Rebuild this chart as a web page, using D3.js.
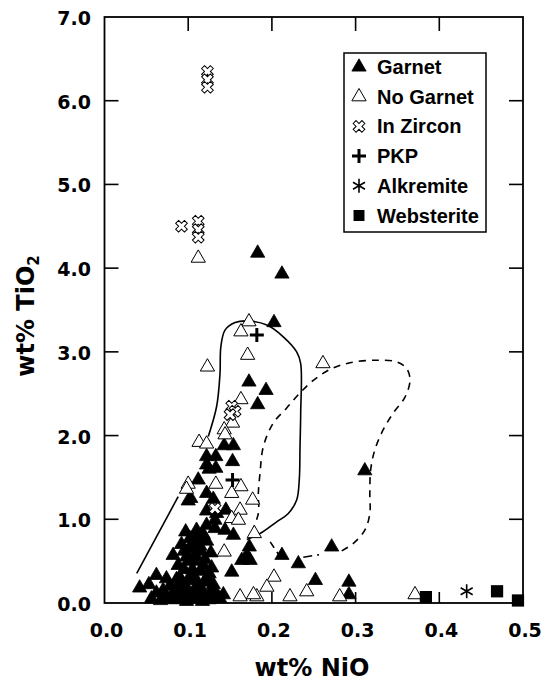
<!DOCTYPE html>
<html>
<head>
<meta charset="utf-8">
<script src="https://cdn.jsdelivr.net/npm/d3@7"></script>
<style>
    body { margin: 0; background: #fff; }
    svg { display: block; }
    .tick-label { font-family: 'DejaVu Sans', sans-serif; font-weight: bold; font-size: 19px; fill: #000; }
    .axis-title { font-family: 'DejaVu Sans', sans-serif; font-weight: bold; font-size: 24px; fill: #000; }
    .legend-label { font-family: 'Liberation Sans', Arial, sans-serif; font-weight: bold; font-size: 20px; fill: #000; }
</style>
</head>
<body>
<div id="chart"></div>
<script>
'use strict';

// [NiO, TiO2] wt%
var garnet = [
    [0.183, 4.18], [0.212, 3.93], [0.2025, 3.35], [0.1726, 2.64], [0.193, 2.54], [0.183, 2.37],
    [0.143, 1.88], [0.154, 1.88], [0.122, 1.75], [0.133, 1.75], [0.122, 1.65], [0.153, 1.69],
    [0.133, 1.61], [0.125, 1.60], [0.112, 1.47], [0.122, 1.31], [0.130, 1.24], [0.100, 1.22],
    [0.103, 1.25], [0.122, 1.10], [0.134, 1.07], [0.145, 1.11], [0.132, 0.99], [0.122, 0.93],
    [0.132, 0.89], [0.144, 0.87], [0.110, 0.87], [0.102, 0.77], [0.112, 0.75], [0.122, 0.74],
    [0.154, 0.81], [0.110, 0.79], [0.082, 0.57], [0.173, 0.67], [0.170, 0.57], [0.164, 0.51],
    [0.174, 0.51], [0.212, 0.57], [0.2316, 0.47], [0.2714, 0.67], [0.311, 1.58], [0.152, 0.37],
    [0.252, 0.27], [0.292, 0.25], [0.292, 0.10], [0.142, 0.10], [0.132, 0.08],
    [0.042, 0.18], [0.062, 0.33], [0.062, 0.12], [0.074, 0.29], [0.086, 0.18], [0.082, 0.075],
    [0.095, 0.62], [0.105, 0.65], [0.115, 0.62], [0.100, 0.50], [0.110, 0.50], [0.120, 0.52],
    [0.095, 0.40], [0.105, 0.40], [0.115, 0.38], [0.125, 0.35], [0.090, 0.30], [0.100, 0.28],
    [0.110, 0.27], [0.120, 0.25], [0.130, 0.22], [0.092, 0.18], [0.100, 0.15], [0.108, 0.17],
    [0.118, 0.13], [0.126, 0.12], [0.095, 0.07], [0.105, 0.05], [0.115, 0.06], [0.085, 0.04],
    [0.098, 0.02], [0.078, 0.20], [0.070, 0.15], [0.090, 0.10],
    [0.088, 0.45], [0.098, 0.55], [0.108, 0.58], [0.118, 0.45], [0.128, 0.42], [0.104, 0.70],
    [0.114, 0.68], [0.093, 0.25], [0.083, 0.12], [0.075, 0.05], [0.112, 0.20], [0.122, 0.30],
    [0.132, 0.14], [0.104, 0.33], [0.086, 0.28], [0.097, 0.85], [0.118, 0.82], [0.127, 0.60],
    [0.107, 0.10], [0.117, 0.02], [0.125, 0.04], [0.138, 0.05], [0.072, 0.10], [0.067, 0.03],
    [0.092, 0.70], [0.053, 0.22], [0.056, 0.05]
];

var noGarnet = [
    [0.112, 4.12], [0.1726, 3.36], [0.163, 3.24], [0.171, 2.96], [0.123, 2.82], [0.261, 2.86],
    [0.163, 2.43], [0.153, 2.15], [0.143, 2.07], [0.144, 2.01], [0.113, 1.92], [0.122, 1.90],
    [0.133, 1.42], [0.100, 1.42], [0.098, 1.36], [0.163, 1.39], [0.152, 1.31], [0.177, 1.23],
    [0.162, 1.11], [0.152, 1.01], [0.160, 0.99], [0.179, 0.83], [0.143, 0.61], [0.2025, 0.31],
    [0.194, 0.19], [0.2416, 0.135], [0.162, 0.075], [0.182, 0.075], [0.2216, 0.075],
    [0.281, 0.075], [0.371, 0.10], [0.178, 0.10]
];

var inZircon = [
    [0.123, 6.35], [0.123, 6.25], [0.123, 6.16], [0.092, 4.50], [0.112, 4.56], [0.112, 4.46],
    [0.112, 4.37], [0.152, 2.35], [0.156, 2.29], [0.150, 2.25], [0.132, 1.13]
];

var pkp = [[0.182, 3.20], [0.153, 1.47]];
var alkremite = [[0.4327, 0.14]];
var websterite = [[0.384, 0.07], [0.469, 0.14], [0.494, 0.03]];

// outlined fields
var solidField = [
    [0.124, 1.99], [0.134, 2.35], [0.138, 2.74], [0.139, 3.06], [0.144, 3.26], [0.156, 3.35],
    [0.170, 3.37], [0.194, 3.32], [0.2136, 3.18], [0.2296, 3.00], [0.2344, 2.86], [0.2344, 2.27],
    [0.2336, 1.87], [0.2327, 1.47], [0.2296, 1.23], [0.2196, 1.07], [0.2057, 0.97], [0.1858, 0.83],
    [0.170, 0.76]
];
var solidEdge = [[0.0385, 0.355], [0.088, 1.27]];
var dashedField = [
    [0.176, 0.85], [0.1838, 1.07], [0.1838, 1.31], [0.1858, 1.55], [0.1898, 1.87], [0.2017, 2.15],
    [0.2177, 2.33], [0.2336, 2.51], [0.2495, 2.66], [0.2694, 2.79], [0.2933, 2.87], [0.3252, 2.90],
    [0.349, 2.88], [0.361, 2.80], [0.365, 2.66], [0.359, 2.46], [0.345, 2.27], [0.333, 2.07],
    [0.323, 1.83], [0.318, 1.59], [0.317, 1.31], [0.317, 1.07], [0.311, 0.87], [0.297, 0.71],
    [0.281, 0.61]
];
var dashDotEdge = [[0.2375, 0.546], [0.261, 0.585]];
var dashedEdge = [[0.198, 0.73], [0.21, 0.55]];

var xTicks = [0, 0.1, 0.2, 0.3, 0.4, 0.5];
var yTicks = [0, 1, 2, 3, 4, 5, 6, 7];

var legendNames = ['Garnet', 'No Garnet', 'In Zircon', 'PKP', 'Alkremite', 'Websterite'];

var stage = { width: 541, height: 683 };
var plot = { left: 104.5, right: 523, top: 17, bottom: 603 };

var x = d3.scaleLinear().domain([0, 0.5]).range([plot.left, plot.right]);
var y = d3.scaleLinear().domain([0, 7]).range([plot.bottom, plot.top]);

var svg = d3.select('#chart')
    .append('svg')
    .attr('width', stage.width)
    .attr('height', stage.height)
    .attr('xmlns', 'http://www.w3.org/2000/svg');

// frame
svg.append('rect')
    .attr('x', plot.left)
    .attr('y', plot.top)
    .attr('width', plot.right - plot.left)
    .attr('height', plot.bottom - plot.top)
    .attr('fill', 'none')
    .attr('stroke', '#000')
    .attr('stroke-width', 1.8);

// inward ticks on all four sides
var innerX = xTicks.slice(1, -1);
var innerY = yTicks.slice(1, -1);
var tickLen = 14;
var ticks = svg.append('g').attr('stroke', '#000').attr('stroke-width', 1.6);
ticks.selectAll('.tb').data(innerX).enter().append('line')
    .attr('x1', function(d) { return x(d); })
    .attr('x2', function(d) { return x(d); })
    .attr('y1', plot.top)
    .attr('y2', plot.top + tickLen);
ticks.selectAll('.bt').data(innerX).enter().append('line')
    .attr('x1', function(d) { return x(d); })
    .attr('x2', function(d) { return x(d); })
    .attr('y1', plot.bottom)
    .attr('y2', plot.bottom - 11);
ticks.selectAll('.lt').data(innerY).enter().append('line')
    .attr('x1', plot.left)
    .attr('x2', plot.left + tickLen)
    .attr('y1', function(d) { return y(d); })
    .attr('y2', function(d) { return y(d); });
ticks.selectAll('.rt').data(innerY).enter().append('line')
    .attr('x1', plot.right)
    .attr('x2', plot.right - tickLen)
    .attr('y1', function(d) { return y(d); })
    .attr('y2', function(d) { return y(d); });

// tick labels
svg.append('g').selectAll('text').data(xTicks).enter()
    .append('text')
    .attr('class', 'tick-label')
    .attr('x', function(d) { return x(d) + 2; })
    .attr('y', 637)
    .attr('text-anchor', 'middle')
    .text(function(d) { return d.toFixed(1); });

svg.append('g').selectAll('text').data(yTicks).enter()
    .append('text')
    .attr('class', 'tick-label')
    .attr('x', 91)
    .attr('y', function(d) { return y(d) + 8; })
    .attr('text-anchor', 'end')
    .text(function(d) { return d.toFixed(1); });

// axis titles
svg.append('text')
    .attr('class', 'axis-title')
    .attr('x', 312)
    .attr('y', 676)
    .attr('text-anchor', 'middle')
    .text('wt% NiO');

var yTitle = svg.append('text')
    .attr('class', 'axis-title')
    .attr('transform', 'translate(34,316) rotate(-90)')
    .attr('text-anchor', 'middle');
yTitle.append('tspan').text('wt% TiO');
yTitle.append('tspan').attr('font-size', 15).attr('dy', 5).text('2');

// field outlines
var curve = d3.line()
    .x(function(d) { return x(d[0]); })
    .y(function(d) { return y(d[1]); })
    .curve(d3.curveCatmullRom.alpha(0.5));
var straight = d3.line()
    .x(function(d) { return x(d[0]); })
    .y(function(d) { return y(d[1]); });

var fields = svg.append('g').attr('fill', 'none').attr('stroke', '#000').attr('stroke-width', 1.6);
fields.append('path').attr('d', curve(solidField));
fields.append('path').attr('d', straight(solidEdge));
fields.append('path').attr('d', curve(dashedField)).attr('stroke-dasharray', '7,6');
fields.append('path').attr('d', straight(dashedEdge)).attr('stroke-dasharray', '7,5');
fields.append('path').attr('d', straight(dashDotEdge)).attr('stroke-dasharray', '9,5,2,5');

// symbols
var triPath = d3.symbol().type(d3.symbolTriangle).size(88)();
var zirconPath = d3.symbol().type(d3.symbolCross).size(85)();
var squarePath = d3.symbol().type(d3.symbolSquare).size(150)();
var plusPath = 'M-7,0H7M0,-7V7';
var starPath = 'M0,-7V7M-6,-3.5L6,3.5M-6,3.5L6,-3.5';

var pos = function(d) { return 'translate(' + x(d[0]) + ',' + y(d[1]) + ')'; };

var marks = svg.append('g');

marks.append('g').selectAll('path').data(garnet).enter()
    .append('path')
    .attr('d', triPath)
    .attr('transform', pos)
    .attr('fill', '#000')
    .attr('stroke', '#000')
    .attr('stroke-width', 0.8);

marks.append('g').selectAll('path').data(noGarnet).enter()
    .append('path')
    .attr('d', triPath)
    .attr('transform', pos)
    .attr('fill', '#fff')
    .attr('stroke', '#000')
    .attr('stroke-width', 1);

marks.append('g').selectAll('path').data(inZircon).enter()
    .append('path')
    .attr('d', zirconPath)
    .attr('transform', function(d) { return pos(d) + ' rotate(45)'; })
    .attr('fill', '#fff')
    .attr('stroke', '#000')
    .attr('stroke-width', 1);

marks.append('g').selectAll('path').data(pkp).enter()
    .append('path')
    .attr('d', plusPath)
    .attr('transform', pos)
    .attr('stroke', '#000')
    .attr('stroke-width', 3);

marks.append('g').selectAll('path').data(alkremite).enter()
    .append('path')
    .attr('d', starPath)
    .attr('transform', pos)
    .attr('stroke', '#000')
    .attr('stroke-width', 1.6);

marks.append('g').selectAll('path').data(websterite).enter()
    .append('path')
    .attr('d', squarePath)
    .attr('transform', pos)
    .attr('fill', '#000');

// legend
var legend = svg.append('g').attr('class', 'legend');
legend.append('rect')
    .attr('x', 344)
    .attr('y', 53)
    .attr('width', 142)
    .attr('height', 179)
    .attr('fill', '#fff')
    .attr('stroke', '#000')
    .attr('stroke-width', 1.5);

var legendStyles = [
    { d: triPath, fill: '#000', stroke: '#000', sw: 0.8, rot: 0 },
    { d: triPath, fill: '#fff', stroke: '#000', sw: 1, rot: 0 },
    { d: zirconPath, fill: '#fff', stroke: '#000', sw: 1, rot: 45 },
    { d: plusPath, fill: 'none', stroke: '#000', sw: 3, rot: 0 },
    { d: starPath, fill: 'none', stroke: '#000', sw: 1.6, rot: 0 },
    { d: d3.symbol().type(d3.symbolSquare).size(120)(), fill: '#000', stroke: 'none', sw: 0, rot: 0 }
];

var rows = legend.selectAll('g.row').data(legendNames).enter()
    .append('g')
    .attr('class', 'row')
    .attr('transform', function(d, i) { return 'translate(359,' + (67 + i * 29.7) + ')'; });

rows.append('path')
    .attr('d', function(d, i) { return legendStyles[i].d; })
    .attr('transform', function(d, i) { return 'rotate(' + legendStyles[i].rot + ')'; })
    .attr('fill', function(d, i) { return legendStyles[i].fill; })
    .attr('stroke', function(d, i) { return legendStyles[i].stroke; })
    .attr('stroke-width', function(d, i) { return legendStyles[i].sw; });

rows.append('text')
    .attr('class', 'legend-label')
    .attr('x', 18)
    .attr('y', 7)
    .text(function(d) { return d; });
</script>
</body>
</html>
